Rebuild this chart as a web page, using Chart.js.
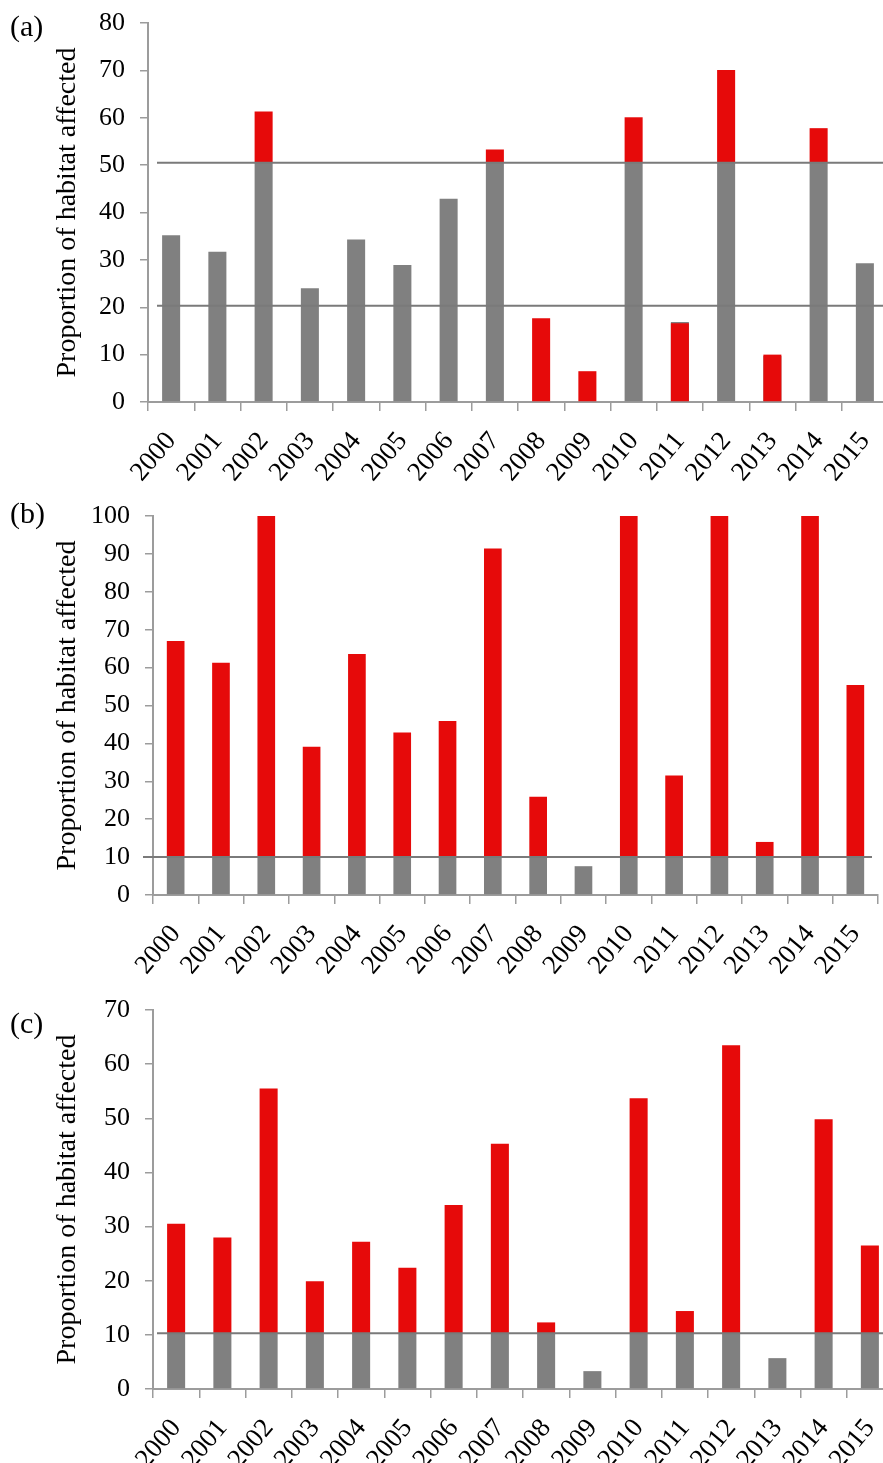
<!DOCTYPE html>
<html>
<head>
<meta charset="utf-8">
<script src="https://cdn.jsdelivr.net/npm/chart.js@4/dist/chart.umd.min.js"></script>
<style>
  html, body { margin: 0; padding: 0; background: #fff; overflow: hidden; width: 883px; height: 1463px; }
  .panel { position: absolute; left: 0; width: 893px; }
  .tag { position: absolute; left: 10px; font-family: "Liberation Serif", "Times New Roman", serif;
         font-size: 30px; line-height: 30px; color: #000; }
</style>
</head>
<body>
<div class="panel" style="top:0;height:490px"><canvas id="chartA" width="893" height="490"></canvas></div>
<div class="panel" style="top:490px;height:490px"><canvas id="chartB" width="893" height="490"></canvas></div>
<div class="panel" style="top:980px;height:483px"><canvas id="chartC" width="893" height="483"></canvas></div>
<div class="tag" style="top:11px">(a)</div>
<div class="tag" style="top:498px">(b)</div>
<div class="tag" style="top:1008px">(c)</div>

<script>
// Years on the category axis
const years = ['2000','2001','2002','2003','2004','2005','2006','2007',
               '2008','2009','2010','2011','2012','2013','2014','2015'];

// Panel (a): grey part, red part (base and top) and reference levels
const greyA     = [35.2, 31.7, 50.5, 24.0, 34.3, 28.9, 42.9, 50.5, 0, 0, 50.5, 16.9, 50.5, 9.7, 50.5, 29.3];
const redBaseA  = [null, null, 50.5, null, null, null, null, 50.5, 0, 0, 50.5, 0, 50.5, 0, 50.5, null];
const redTopA   = [null, null, 61.3, null, null, null, null, 53.3, 17.7, 6.5, 60.1, 16.6, 70.1, 10.0, 57.8, null];
const levelsA   = [20.3, 50.5];
const yTicksA   = [0, 10, 20, 30, 40, 50, 60, 70, 80];

// Panel (b)
const greyB     = [10, 10, 10, 10, 10, 10, 10, 10, 10, 7.6, 10, 10, 10, 10, 10, 10];
const redBaseB  = [10, 10, 10, 10, 10, 10, 10, 10, 10, null, 10, 10, 10, 10, 10, 10];
const redTopB   = [67.0, 61.3, 100, 39.1, 63.6, 42.9, 45.9, 91.4, 25.9, null, 100, 31.5, 100, 14.0, 100, 55.4];
const levelsB   = [10];
const yTicksB   = [0, 10, 20, 30, 40, 50, 60, 70, 80, 90, 100];

// Panel (c)
const greyC     = [10.3, 10.3, 10.3, 10.3, 10.3, 10.3, 10.3, 10.3, 10.3, 3.3, 10.3, 10.3, 10.3, 5.7, 10.3, 10.3];
const redBaseC  = [10.3, 10.3, 10.3, 10.3, 10.3, 10.3, 10.3, 10.3, 10.3, null, 10.3, 10.3, 10.3, null, 10.3, 10.3];
const redTopC   = [30.5, 28.0, 55.5, 19.9, 27.2, 22.4, 34.0, 45.3, 12.3, null, 53.7, 14.4, 63.5, null, 49.8, 26.5];
const levelsC   = [10.3];
const yTicksC   = [0, 10, 20, 30, 40, 50, 60, 70];

const yTitle = 'Proportion of habitat affected';

const RED = '#e60a0a';
const GREY = '#808080';
const AXIS = '#9c9c9c';
const LEVEL = '#7a7a7a';
const FONT = '"Liberation Serif", "Times New Roman", serif';

// Horizontal reference lines at fixed levels on the value axis
const levelLines = {
  id: 'levelLines',
  afterDatasetsDraw(chart, args, opts) {
    const { ctx, chartArea, scales } = chart;
    const y = scales.y;
    ctx.save();
    ctx.strokeStyle = opts.color;
    ctx.lineWidth = opts.width;
    (opts.values || []).forEach(v => {
      const py = y.getPixelForValue(v);
      ctx.beginPath();
      ctx.moveTo(chartArea.left + opts.startOffset, py);
      ctx.lineTo(chartArea.right + opts.endOffset, py);
      ctx.stroke();
    });
    ctx.restore();
  }
};

function floating(base, top) {
  return top.map((t, i) => (t == null ? null : [base[i], t]));
}

function makeChart(id, cfg) {
  const tickValues = cfg.ticks;
  return new Chart(document.getElementById(id), {
    type: 'bar',
    data: {
      labels: years,
      datasets: [
        { data: floating(cfg.redBase, cfg.redTop), backgroundColor: RED, order: 0,
          grouped: false, barPercentage: 0.39, categoryPercentage: 1 },
        { data: cfg.grey, backgroundColor: GREY, order: 1,
          grouped: false, barPercentage: 0.39, categoryPercentage: 1 }
      ]
    },
    options: {
      responsive: false,
      animation: false,
      events: [],
      layout: { padding: cfg.padding },
      plugins: {
        legend: { display: false },
        tooltip: { enabled: false },
        levelLines: { values: cfg.levels, color: LEVEL, width: 2,
                      startOffset: cfg.lineStart, endOffset: cfg.lineEnd }
      },
      scales: {
        x: {
          grid: { offset: true, drawOnChartArea: false, tickLength: 9, color: AXIS, tickColor: AXIS, lineWidth: 1.5 },
          border: { color: AXIS, width: 2 },
          ticks: { font: { family: FONT, size: 27 }, color: '#000', minRotation: 50, maxRotation: 50,
                   autoSkip: false, padding: 15 },
          afterFit(scale) {
            scale.height = cfg.xHeight;
            scale.paddingLeft = 0; scale.paddingRight = 0;
          }
        },
        y: {
          min: tickValues[0],
          max: tickValues[tickValues.length - 1],
          afterBuildTicks(scale) { scale.ticks = tickValues.map(v => ({ value: v })); },
          grid: { drawOnChartArea: false, tickLength: 8, color: AXIS, tickColor: AXIS, lineWidth: 1.5 },
          border: { color: AXIS, width: 2 },
          ticks: { font: { family: FONT, size: 26 }, color: '#000', padding: 15 },
          title: { display: true, text: yTitle, color: '#000',
                   font: { family: FONT, size: 28, lineHeight: 1.2 }, padding: { top: 51, bottom: 0 } },
          afterFit(scale) {
            scale.width = cfg.yWidth;
            scale.paddingTop = 0; scale.paddingBottom = 0;
          }
        }
      }
    },
    plugins: [levelLines]
  });
}

makeChart('chartA', {
  grey: greyA, redBase: redBaseA, redTop: redTopA, levels: levelsA, ticks: yTicksA,
  padding: { top: 23, left: 0, right: 5, bottom: 0 }, yWidth: 148, xHeight: 88,
  lineStart: 9, lineEnd: 0
});
makeChart('chartB', {
  grey: greyB, redBase: redBaseB, redTop: redTopB, levels: levelsB, ticks: yTicksB,
  padding: { top: 26, left: 0, right: 15, bottom: 0 }, yWidth: 153, xHeight: 85,
  lineStart: -10, lineEnd: -6
});
makeChart('chartC', {
  grey: greyC, redBase: redBaseC, redTop: redTopC, levels: levelsC, ticks: yTicksC,
  padding: { top: 30, left: 0, right: 0, bottom: 0 }, yWidth: 153, xHeight: 74,
  lineStart: 4, lineEnd: 0
});
</script>
</body>
</html>
